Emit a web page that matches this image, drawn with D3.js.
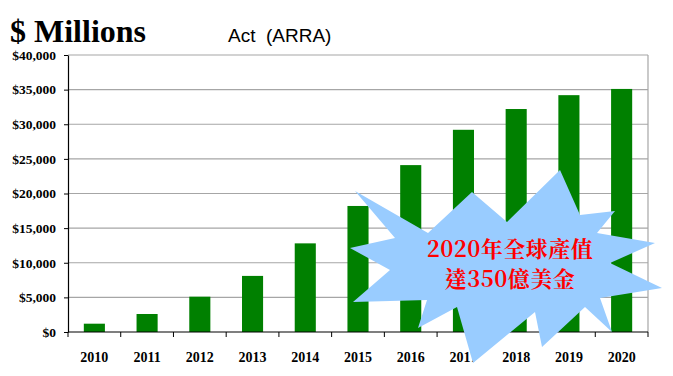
<!DOCTYPE html>
<html>
<head>
<meta charset="utf-8">
<script src="https://cdn.jsdelivr.net/npm/d3@7"></script>
<style>
  body { margin: 0; background: #fff; }
</style>
</head>
<body>
<div id="chart"></div>
<script>
const years = ["2010", "2011", "2012", "2013", "2014", "2015", "2016", "2017", "2018", "2019", "2020"];
const values = [1200, 2600, 5100, 8100, 12800, 18200, 24100, 29200, 32200, 34200, 35100];
const yTicks = [0, 5000, 10000, 15000, 20000, 25000, 30000, 35000, 40000];
const calloutLines = ["2020年全球產值", "達350億美金"];

const W = 673, H = 376;
const margin = { top: 55, right: 25, bottom: 44, left: 68 },
    width = W - margin.left - margin.right,
    height = H - margin.top - margin.bottom;

const root = d3.select("#chart").append("svg")
    .attr("width", W)
    .attr("height", H);

// Titles
root.append("text")
    .attr("x", 10).attr("y", 42)
    .style("font-family", "Liberation Serif, serif")
    .style("font-weight", "bold")
    .style("font-size", "32px")
    .text("$ Millions");
root.append("text")
    .attr("x", 228).attr("y", 42)
    .style("font-family", "Liberation Sans, Arial, sans-serif")
    .style("font-size", "19px")
    .style("white-space", "pre")
    .text("Act  (ARRA)");

const svg = root.append("g")
    .attr("transform", `translate(${margin.left},${margin.top})`);

const x = d3.scaleBand()
    .domain(years)
    .range([0, width])
    .paddingInner(0.6)
    .paddingOuter(0.3);

const y = d3.scaleLinear()
    .domain([0, 40000])
    .range([height, 0]);

// grid lines
svg.append("g")
    .selectAll("line")
    .data(yTicks.slice(1))
    .join("line")
    .attr("x1", 0).attr("x2", width)
    .attr("y1", d => y(d)).attr("y2", d => y(d))
    .attr("stroke", "#a6a6a6")
    .attr("stroke-width", 1.2);

// right border
svg.append("line")
    .attr("x1", width).attr("x2", width)
    .attr("y1", 0).attr("y2", height)
    .attr("stroke", "#a6a6a6")
    .attr("stroke-width", 1.2);

// Bars
svg.selectAll(".bar")
    .data(values)
    .join("rect")
    .attr("class", "bar")
    .attr("x", (d, i) => x(years[i]))
    .attr("y", d => y(d))
    .attr("width", x.bandwidth())
    .attr("height", d => height - y(d))
    .attr("fill", "#008000");

// Y axis
const yAxis = svg.append("g")
    .call(d3.axisLeft(y).tickValues(yTicks).tickSize(4).tickSizeOuter(0)
        .tickFormat(d => "$" + d3.format(",")(d)));
yAxis.select(".domain").attr("stroke", "#000").attr("stroke-width", 1.2);
yAxis.selectAll(".tick line").attr("stroke", "#000");
yAxis.selectAll("text")
    .attr("x", -12)
    .style("font-family", "Liberation Serif, serif")
    .style("font-weight", "bold")
    .style("font-size", "13.5px")
    .style("fill", "#000");

// X axis: tick marks sit between the categories
const step = x.step();
const xg = svg.append("g").attr("transform", `translate(0,${height})`);
xg.append("line")
    .attr("x1", 0).attr("x2", width)
    .attr("stroke", "#000").attr("stroke-width", 1.2);
xg.selectAll(".sep")
    .data(d3.range(years.length + 1))
    .join("line")
    .attr("class", "sep")
    .attr("x1", i => i * step).attr("x2", i => i * step)
    .attr("y1", 0).attr("y2", 5)
    .attr("stroke", "#000");
xg.selectAll(".xl")
    .data(years)
    .join("text")
    .attr("class", "xl")
    .attr("x", d => x(d) + x.bandwidth() / 2)
    .attr("y", 30)
    .attr("text-anchor", "middle")
    .style("font-family", "Liberation Serif, serif")
    .style("font-weight", "bold")
    .style("font-size", "14px")
    .text(d => d);

// Callout burst
const burst = [
    [355, 191], [428, 233], [472, 192], [507, 222], [560, 170], [580, 215],
    [615, 211], [597, 233], [655, 243], [610, 263], [662, 288], [600, 298],
    [612, 332], [585, 307], [542, 347], [535, 312], [473, 363], [457, 307],
    [418, 328], [427, 300], [353, 302], [390, 270], [350, 248], [395, 238]
];
root.append("path")
    .attr("d", d3.line()(burst) + "Z")
    .attr("fill", "#99ccff");

root.selectAll(".callout")
    .data(calloutLines)
    .join("text")
    .attr("class", "callout")
    .attr("x", 510)
    .attr("y", (d, i) => 257 + i * 30)
    .attr("text-anchor", "middle")
    .style("font-family", "Noto Serif CJK TC, Noto Sans CJK TC, serif")
    .style("font-weight", "bold")
    .style("font-size", "22px")
    .style("letter-spacing", "0.5px")
    .style("fill", "#ff0000")
    .text(d => d);
</script>
</body>
</html>
